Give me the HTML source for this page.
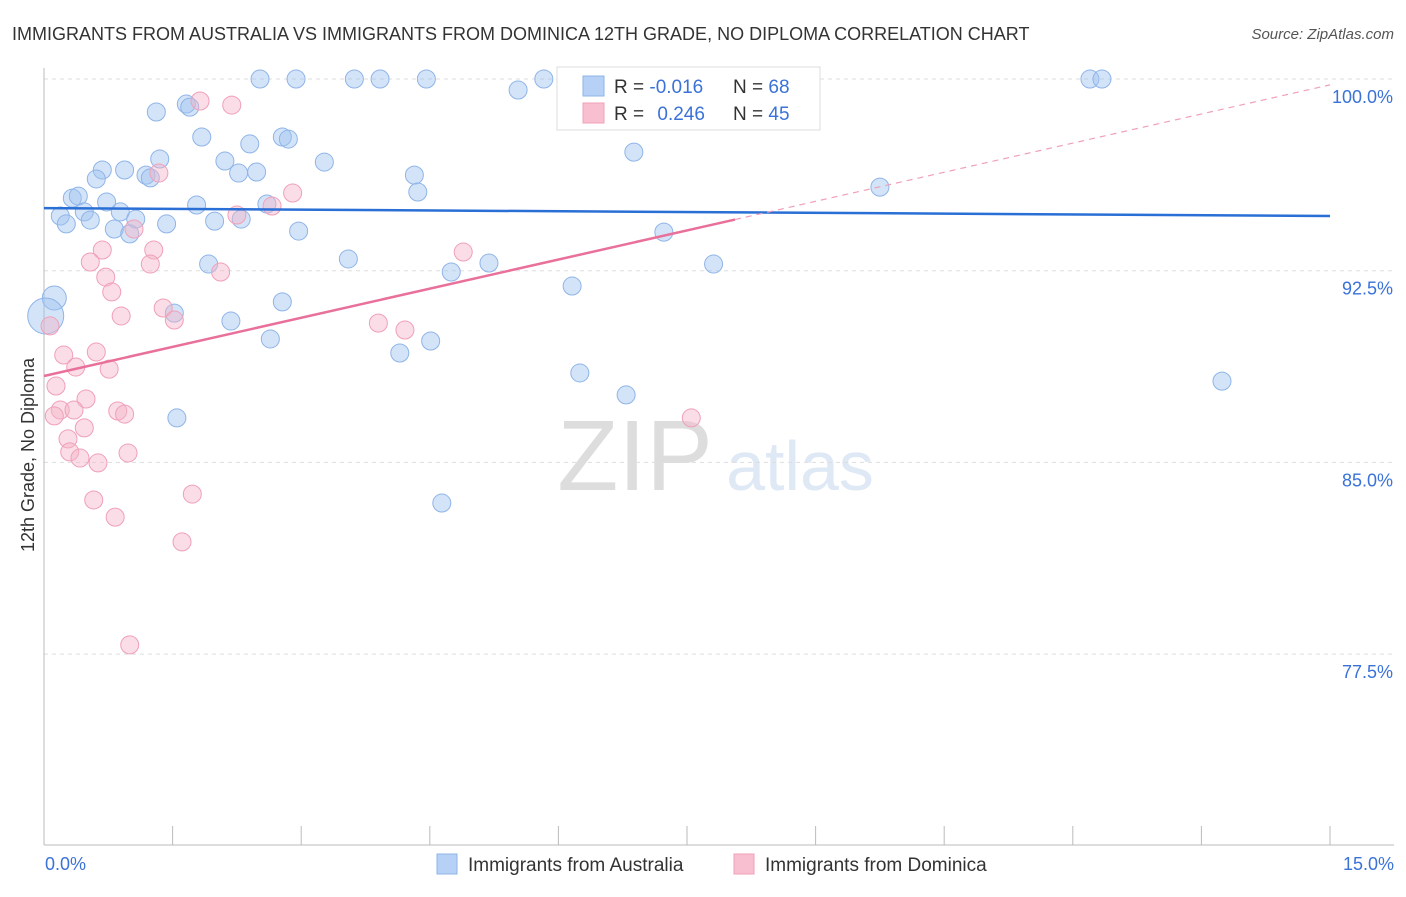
<!DOCTYPE html>
<html><head><meta charset="utf-8"><style>
body{margin:0;background:#fff;font-family:"Liberation Sans",sans-serif}
svg text{font-family:"Liberation Sans",sans-serif}
</style></head><body>
<svg id="chart" width="1406" height="892" xmlns="http://www.w3.org/2000/svg">
<text x="12" y="40" font-size="18" fill="#333">IMMIGRANTS FROM AUSTRALIA VS IMMIGRANTS FROM DOMINICA 12TH GRADE, NO DIPLOMA CORRELATION CHART</text>
<text x="1394" y="39" font-size="15" fill="#555" font-style="italic" text-anchor="end">Source: ZipAtlas.com</text>
<text x="0" y="0" transform="translate(34,455) rotate(-90)" font-size="18" fill="#333" text-anchor="middle">12th Grade, No Diploma</text>
<g><text x="635" y="490" font-size="100" fill="#ddd" text-anchor="middle" font-family="Liberation Serif">ZIP</text><text x="800" y="490" font-size="70" fill="#dfe8f5" text-anchor="middle">atlas</text></g>
<g id="grid"></g><g id="axes"></g><g id="pts"></g><g id="lines"></g>
<g>
<rect x="557" y="67" width="263" height="63" fill="#fff" stroke="#ddd"/>
<rect x="583" y="76" width="21" height="20" fill="#b7d0f5" stroke="#8fb4e8"/>
<rect x="583" y="103" width="21" height="20" fill="#f7bfd0" stroke="#f0a0b8"/>
<text x="614" y="93" font-size="19" fill="#333">R = <tspan fill="#3a72d8">-0.016</tspan></text>
<text x="733" y="93" font-size="19" fill="#333">N = <tspan fill="#3a72d8">68</tspan></text>
<text x="614" y="120" font-size="19" fill="#333">R = <tspan fill="#3a72d8" dx="8">0.246</tspan></text>
<text x="733" y="120" font-size="19" fill="#333">N = <tspan fill="#3a72d8">45</tspan></text>
</g>
<g>
<rect x="437" y="854" width="20" height="20" fill="#b7d0f5" stroke="#8fb4e8"/>
<text x="468" y="871" font-size="19" fill="#333">Immigrants from Australia</text>
<rect x="734" y="854" width="20" height="20" fill="#f7bfd0" stroke="#f0a0b8"/>
<text x="765" y="871" font-size="19" fill="#333">Immigrants from Dominica</text>
</g>
</svg>
<script>
const yTicks=[100,92.5,85,77.5];
const yTickLabels=["100.0%","92.5%","85.0%","77.5%"];
const xTickLabels=["0.0%","15.0%"];
const blueX=[2.52,2.94,3.62,3.92,4.46,5.83,5.53,12.20,12.34,1.31,1.66,1.70,1.84,2.40,2.78,2.85,2.11,1.35,0.68,0.94,0.61,1.19,1.24,2.27,2.48,3.27,4.32,4.36,6.88,9.75,0.33,0.40,0.19,0.26,0.47,0.54,0.73,0.89,1.07,0.82,1.00,1.43,1.78,1.99,2.30,2.60,2.97,1.92,3.55,4.75,5.19,6.16,7.23,7.81,2.78,1.52,2.18,2.64,4.15,4.51,6.25,6.79,13.74,1.55,4.64];
const blueY=[100,100,100,100,100,100,99.57,100,100,98.71,99.02,98.90,97.73,97.46,97.73,97.65,96.79,96.87,96.44,96.44,96.09,96.24,96.13,96.32,96.36,96.75,96.24,95.58,97.14,95.77,95.34,95.42,94.64,94.33,94.80,94.48,95.19,94.80,94.52,94.13,93.94,94.33,95.07,94.44,94.52,95.11,94.05,92.76,92.96,92.45,92.80,91.90,94.01,92.76,91.28,90.84,90.53,89.83,89.28,89.75,88.50,87.64,88.18,86.74,83.41];
const bigBlueX=[0.12,0.02];
const bigBlueY=[91.43,90.73];
const pinkX=[1.82,2.19,6.51,1.34,2.90,2.66,2.25,1.05,0.68,1.28,0.54,1.24,0.72,2.06,4.89,0.79,1.39,1.52,0.90,0.07,3.90,4.21,0.23,0.61,0.37,0.76,0.14,0.49,0.19,0.35,0.12,0.86,0.94,0.47,0.28,0.30,0.42,0.98,0.63,7.55,1.73,0.58,0.83,1.61,1.00];
const pinkY=[99.14,98.98,98.71,96.32,95.54,95.03,94.68,94.13,93.31,93.31,92.84,92.76,92.25,92.45,93.23,91.67,91.04,90.57,90.73,90.34,90.45,90.18,89.20,89.32,88.73,88.65,87.99,87.48,87.05,87.05,86.82,87.01,86.89,86.35,85.92,85.41,85.17,85.37,84.98,86.74,83.76,83.53,82.86,81.89,77.86];
const blueTrend=[94.95,94.64];
const pinkTrend=[88.38,99.77];
const pinkSolidEnd=8.06;
const NS="http://www.w3.org/2000/svg";
const sx=v=>44+v/15*1286;
const sy=v=>79+(100-v)/7.5*191.7;
function mk(tag,attrs,parent){const e=document.createElementNS(NS,tag);for(const k in attrs)e.setAttribute(k,attrs[k]);document.getElementById(parent).appendChild(e);return e;}
yTicks.forEach((t,i)=>{
  const l=mk('line',{x1:44,x2:1394,y1:sy(t),y2:sy(t),stroke:'#ddd','stroke-dasharray':'4,4'},'grid');
  
  
  const tx=mk('text',{x:1393,y:sy(t)+24,'font-size':18,fill:'#3a72d8','text-anchor':'end'},'axes');
  tx.textContent=yTickLabels[i];
  
  
});
const ax=mk('line',{x1:44,x2:44,y1:68,y2:845,stroke:'#bbb'},'axes');


const bx=mk('line',{x1:44,x2:1394,y1:845,y2:845,stroke:'#bbb'},'axes');


for(let i=0;i<=10;i++){
  const t=mk('line',{x1:sx(i*1.5),x2:sx(i*1.5),y1:826,y2:845,stroke:'#bbb'},'axes');
  
  
}
[[0,'start',45],[15,'end',1394]].forEach((d,i)=>{
  const t=mk('text',{x:d[2],y:870,'font-size':18,fill:'#3a72d8','text-anchor':d[1]},'axes');
  t.textContent=xTickLabels[i];
  
  
});
blueX.forEach((x,i)=>{
  const c=mk('circle',{cx:sx(x),cy:sy(blueY[i]),r:9,fill:'rgba(160,195,240,0.45)',stroke:'#8fb4e8'},'pts');
  
  
});
bigBlueX.forEach((x,i)=>{
  const c=mk('circle',{cx:sx(x),cy:sy(bigBlueY[i]),r:i?18:12,fill:'rgba(160,195,240,0.45)',stroke:'#8fb4e8'},'pts');
  
  
});
pinkX.forEach((x,i)=>{
  const c=mk('circle',{cx:sx(x),cy:sy(pinkY[i]),r:9,fill:'rgba(245,180,200,0.45)',stroke:'#f0a0b8'},'pts');
  
  
});
const bl=mk('line',{x1:sx(0),y1:sy(blueTrend[0]),x2:sx(15),y2:sy(blueTrend[1]),stroke:'#2a6fd6','stroke-width':2.5},'lines');


const pAt=x=>pinkTrend[0]+(pinkTrend[1]-pinkTrend[0])*x/15;
const pl=mk('line',{x1:sx(0),y1:sy(pinkTrend[0]),x2:sx(pinkSolidEnd),y2:sy(pAt(pinkSolidEnd)),stroke:'#e8709a','stroke-width':2.5},'lines');


const pd=mk('line',{x1:sx(pinkSolidEnd),y1:sy(pAt(pinkSolidEnd)),x2:sx(15),y2:sy(pinkTrend[1]),stroke:'#f0a0b8','stroke-width':1.2,'stroke-dasharray':'6,5'},'lines');


</script>
</body></html>
